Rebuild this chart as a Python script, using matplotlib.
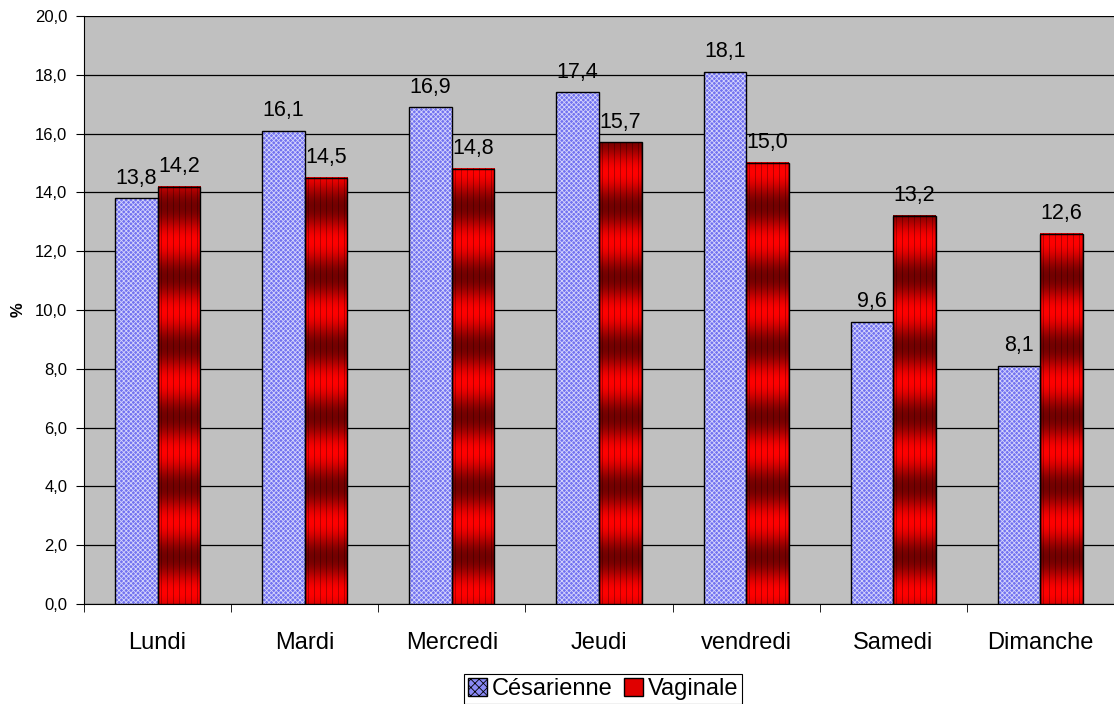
import numpy as np
import matplotlib.pyplot as plt
from matplotlib.patches import Patch

plt.rcParams['font.family'] = ['Liberation Sans', 'DejaVu Sans']
plt.rcParams['hatch.linewidth'] = 0.6

days = ['Lundi', 'Mardi', 'Mercredi', 'Jeudi', 'vendredi', 'Samedi', 'Dimanche']
cesarienne = [13.8, 16.1, 16.9, 17.4, 18.1, 9.6, 8.1]
vaginale = [14.2, 14.5, 14.8, 15.7, 15.0, 13.2, 12.6]
yticks = np.arange(0, 20.1, 2.0)

fig = plt.figure(figsize=(11.14, 7.04), dpi=100)
ax = fig.add_axes([84/1114, 1-604/704, 1-84/1114, 588/704])
ax.set_facecolor('#C0C0C0')

x = np.arange(len(days))
w = 0.289
px_y = 29.4  # pixels per unit

# blue bars: hatched fill, then outline
ax.bar(x - w/2, cesarienne, w, facecolor='#7272F0', edgecolor='#D4D4FC', hatch='xxxxxxx',
       linewidth=0, zorder=3)
b1 = ax.bar(x - w/2, cesarienne, w, facecolor='none', edgecolor='black', linewidth=1.0, zorder=4)
b2 = ax.bar(x + w/2, vaginale, w, facecolor='none', edgecolor='black', linewidth=1.0, zorder=4)

# gradient/stripe fill for red bars
P = 2.38
for rect in b2:
    x0, h, bw = rect.get_x(), rect.get_height(), rect.get_width()
    nr, nc = int(round(h*px_y)), 43
    yy = (np.arange(nr) + 0.5) / px_y
    bright = 0.5 + 0.5*np.cos(2*np.pi*(yy/P - 0.67) + np.pi)
    red = 0.45 + 0.55*bright
    cols = np.arange(nc)
    stripe = np.where(cols % 6 == 3, 0.72, 1.0)
    stripe[0] = stripe[-1] = 0.75
    r = red[:, None]*stripe[None, :]
    img = np.zeros((nr, nc, 3))
    img[..., 0] = r
    ax.imshow(img, extent=[x0, x0+bw, 0, h], aspect='auto', interpolation='bilinear',
              origin='lower', zorder=3)

for xi, v in zip(x - w/2, cesarienne):
    ax.annotate(f'{v:.1f}'.replace('.', ','), (xi, v), xytext=(0, 10.5), textcoords='offset points',
                ha='center', va='baseline', fontsize=15.5)
for xi, v in zip(x + w/2, vaginale):
    ax.annotate(f'{v:.1f}'.replace('.', ','), (xi, v), xytext=(0, 10.5), textcoords='offset points',
                ha='center', va='baseline', fontsize=15.5)

ax.set_xlim(-0.5, 6.5)
ax.set_ylim(0, 20)
ax.set_yticks(yticks)
ax.set_yticklabels([f'{t:.1f}'.replace('.', ',') for t in yticks], fontsize=12)
ax.yaxis.grid(True, color='black', linewidth=0.9)
ax.set_axisbelow(True)
ax.set_xticks(x)
ax.set_xticklabels(days, fontsize=17)
ax.set_xticks(np.arange(-0.5, 6.6, 1.0), minor=True)
ax.tick_params(axis='x', which='major', length=0, pad=20)
ax.tick_params(axis='x', which='minor', length=6, direction='out', color='black')
ax.tick_params(axis='y', length=6, direction='out', pad=6)
ax.spines['top'].set_visible(False)
ax.spines['right'].set_visible(False)
ax.spines['left'].set_color('black')
ax.spines['bottom'].set_color('black')
ax.set_ylabel('%', fontsize=12, fontweight='bold', labelpad=7)

handles = [Patch(facecolor='#8A8AF6', edgecolor='black', hatch='xxxx', label='Césarienne'),
           Patch(facecolor='#E00000', edgecolor='black', label='Vaginale')]
leg = fig.legend(handles=handles, loc='center', bbox_to_anchor=(603/1114, 1-689/704), ncol=2,
                 fontsize=17, frameon=True, fancybox=False, edgecolor='black', framealpha=1,
                 handlelength=0.8, handleheight=0.8, handletextpad=0.2, columnspacing=0.5,
                 borderpad=0.15, borderaxespad=0)
leg.get_frame().set_linewidth(0.8)

fig.savefig('out.png', dpi=100)
